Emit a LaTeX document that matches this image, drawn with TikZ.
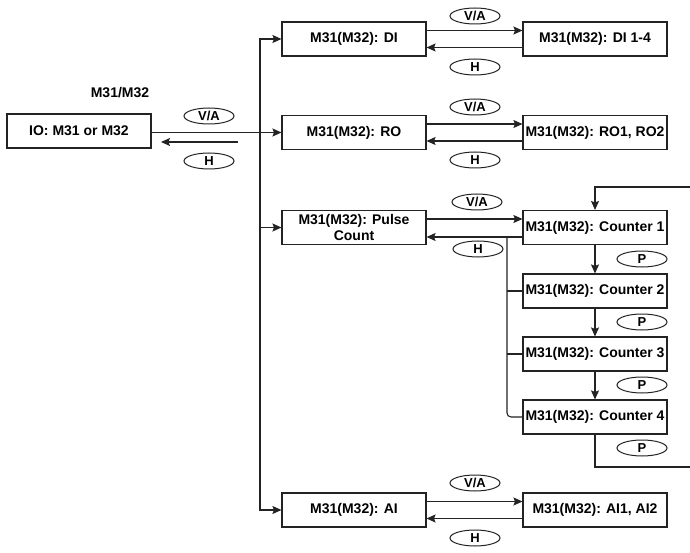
\documentclass[tikz,border=0pt]{standalone}
\usepackage{fontspec}
\setmainfont{Liberation Sans}
\usetikzlibrary{arrows.meta, shapes.geometric}
\definecolor{linecolor}{RGB}{35,35,35}

\begin{document}
\begin{tikzpicture}[x=1pt, y=-1pt, >={Stealth[length=9pt, width=8pt, inset=1.5pt]},
  box/.style={draw=linecolor, line width=1.1pt, minimum width=144pt, minimum height=34pt, inner sep=1pt, align=center, font=\bfseries\fontsize{14}{15.5}\selectfont},
  tag/.style={draw=linecolor, line width=1pt, ellipse, minimum width=50pt, minimum height=16pt, inner sep=0pt, font=\bfseries\fontsize{13}{13}\selectfont},
  link/.style={draw=linecolor, line width=1.1pt}]
\useasboundingbox (0,0) rectangle (690,553);

% Source box and title
\node[box] (io) at (79,131) {IO: M31 or M32};
\node[font=\bfseries\fontsize{14}{14}\selectfont] (title) at (120,93) {M31/M32};

% Left column
\node[box] (di) at (354,39) {M31(M32): DI};
\node[box] (ro) at (354,132.5) {M31(M32): RO};
\node[box] (pc) at (354,227.5) {M31(M32): Pulse\\Count};
\node[box] (ai) at (354,510) {M31(M32): AI};

% Right column
\node[box] (dis) at (595,39) {M31(M32): DI 1-4};
\node[box] (ros) at (595,132.5) {M31(M32): RO1, RO2};
\node[box] (c1) at (595,227.5) {M31(M32): Counter 1};
\node[box] (c2) at (595,291) {M31(M32): Counter 2};
\node[box] (c3) at (595,354) {M31(M32): Counter 3};
\node[box] (c4) at (595,417) {M31(M32): Counter 4};
\node[box] (ais) at (595,510) {M31(M32): AI1, AI2};

% Key tags
\node[tag] (va0) at (209,116) {V/A};
\node[tag] (h0) at (209,161) {H};
\node[tag] (va1) at (475,16) {V/A};
\node[tag] (h1) at (475,67) {H};
\node[tag] (va2) at (475,107) {V/A};
\node[tag] (h2) at (475,160) {H};
\node[tag] (va3) at (477,202) {V/A};
\node[tag] (h3) at (478,249) {H};
\node[tag] (va4) at (475,483) {V/A};
\node[tag] (h4) at (475,538) {H};
\node[tag] (p1) at (642,259) {P};
\node[tag] (p2) at (642,322) {P};
\node[tag] (p3) at (642,385) {P};
\node[tag] (p4) at (642,448) {P};

% Helper points
\coordinate (trunk) at (260,132.5);
\coordinate (hback) at (238,142);
\coordinate (hend) at (161,142);
\coordinate (hbus) at (507,237);
\coordinate (loopa) at (695,467);
\coordinate (loopb) at (695,187);

% Main trunk
\draw[link, ->] (io.east |- trunk) -- (ro.west);
\draw[link, ->] (hback) -- (hend);
\draw[link, ->] (trunk) |- (di.west);
\draw[link, ->] (trunk) |- (pc.west);
\draw[link, ->] (trunk) |- (ai.west);

% Pairs
\draw[link, ->] ([yshift=8.5pt]di.east) -- ([yshift=8.5pt]dis.west);
\draw[link, ->] ([yshift=-8.5pt]dis.west) -- ([yshift=-8.5pt]di.east);
\draw[link, ->] ([yshift=8.5pt]ro.east) -- ([yshift=8.5pt]ros.west);
\draw[link, ->] ([yshift=-8.5pt]ros.west) -- ([yshift=-8.5pt]ro.east);
\draw[link, ->] ([yshift=8.5pt]pc.east) -- ([yshift=8.5pt]c1.west);
\draw[link, ->] ([yshift=-9.5pt]c1.west) -- ([yshift=-9.5pt]pc.east);
\draw[link, ->] ([yshift=8.5pt]ai.east) -- ([yshift=8.5pt]ais.west);
\draw[link, ->] ([yshift=-8.5pt]ais.west) -- ([yshift=-8.5pt]ai.east);

% Counter chain
\draw[link, ->] (c1) -- (c2);
\draw[link, ->] (c2) -- (c3);
\draw[link, ->] (c3) -- (c4);
\draw[link, ->] (c4.south) |- (loopa) -- (loopb) -| (c1.north);
\draw[link, rounded corners=4pt] (c4.west) -| (hbus);
\draw[link] (c2.west) -- (c2.west -| hbus);
\draw[link] (c3.west) -- (c3.west -| hbus);
\end{tikzpicture}
\end{document}
